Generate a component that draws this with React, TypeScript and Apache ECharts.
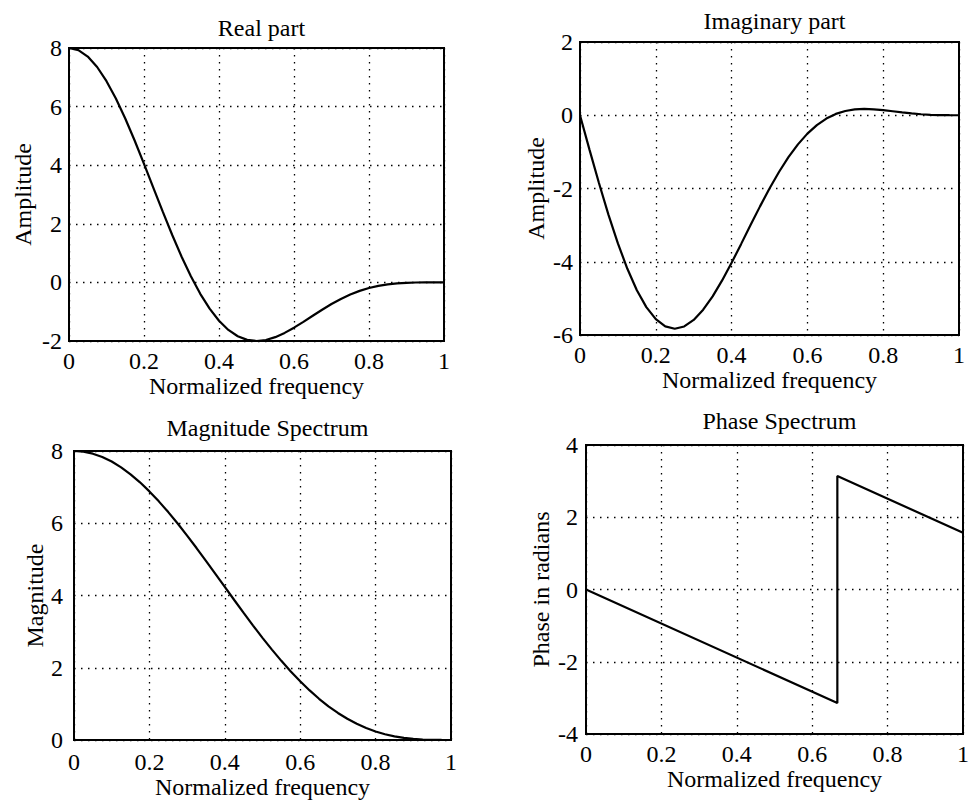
import React, { useEffect, useRef } from "react";
import * as echarts from "echarts";

const freq = [0, 0.025, 0.05, 0.075, 0.1, 0.125, 0.15, 0.175, 0.2, 0.225, 0.25, 0.275, 0.3, 0.325, 0.35, 0.375, 0.4, 0.425, 0.45, 0.475, 0.5, 0.525, 0.55, 0.575, 0.6, 0.625, 0.65, 0.675, 0.7, 0.725, 0.75, 0.775, 0.8, 0.825, 0.85, 0.875, 0.9, 0.925, 0.95, 0.975, 1];
const realPart = [8, 7.926, 7.707, 7.351, 6.868, 6.276, 5.593, 4.842, 4.045, 3.228, 2.414, 1.626, 0.885, 0.209, -0.389, -0.897, -1.309, -1.622, -1.838, -1.961, -2.0, -1.965, -1.868, -1.724, -1.545, -1.346, -1.138, -0.933, -0.739, -0.565, -0.414, -0.289, -0.191, -0.117, -0.066, -0.033, -0.014, -0.004, -0.001, 0, 0];
const imagPart = [0, -0.938, -1.85, -2.712, -3.499, -4.193, -4.777, -5.238, -5.568, -5.764, -5.828, -5.767, -5.589, -5.31, -4.944, -4.51, -4.029, -3.519, -2.999, -2.488, -2.0, -1.549, -1.145, -0.795, -0.502, -0.268, -0.09, 0.037, 0.117, 0.159, 0.172, 0.162, 0.139, 0.109, 0.077, 0.049, 0.027, 0.012, 0.004, 0.001, 0];
const magnitude = [8, 7.982, 7.926, 7.835, 7.708, 7.548, 7.355, 7.133, 6.882, 6.606, 6.309, 5.992, 5.659, 5.314, 4.959, 4.599, 4.236, 3.875, 3.518, 3.168, 2.828, 2.502, 2.191, 1.898, 1.625, 1.372, 1.141, 0.933, 0.749, 0.587, 0.448, 0.332, 0.236, 0.16, 0.102, 0.059, 0.031, 0.013, 0.004, 0.001, 0];
const phaseFreq = [0, 0.6667, 0.6667, 1];
const phaseVals = [0, -3.1416, 3.1416, 1.5708];

const titles = ["Real part", "Imaginary part", "Magnitude Spectrum", "Phase Spectrum"];
const yNames = ["Amplitude", "Amplitude", "Magnitude", "Phase in radians"];
const xName = "Normalized frequency";
const yRanges = [
  [-2, 8],
  [-6, 2],
  [0, 8],
  [-4, 4],
];

const FONT = "'Liberation Serif', 'Times New Roman', serif";
const FS = 24;

export default function App() {
  const ref = useRef<HTMLDivElement>(null);
  useEffect(() => {
    if (!ref.current) return;
    const chart = echarts.init(ref.current, null, { renderer: "svg" });
    const grids = [
      { left: 69, top: 48, width: 375, height: 293 },
      { left: 580, top: 42, width: 379, height: 293 },
      { left: 74, top: 451, width: 377, height: 289 },
      { left: 586, top: 445, width: 377, height: 289 },
    ];
    const titleTops = [11, 4, 411, 404];
    const xNameGaps = [33, 32, 34, 32];
    const yNameGaps = [34, 32, 23, 33];
    const yLabelMargins = [7, 7, 11, 8];
    const xLabelMargins = [8, 8, 10, 8];
    const toPairs = (xs: number[], ys: number[]) => xs.map((x, i) => [x, ys[i]]);
    const seriesData = [
      toPairs(freq, realPart),
      toPairs(freq, imagPart),
      toPairs(freq, magnitude),
      toPairs(phaseFreq, phaseVals),
    ];
    const dotted = { color: "#000", width: 1.3, type: [1.5, 5.5] as any };
    chart.setOption({
      animation: false,
      backgroundColor: "#fff",
      title: grids.map((g, i) => ({
        text: titles[i],
        left: g.left + g.width / 2,
        top: titleTops[i],
        textAlign: "center",
        textStyle: { fontFamily: FONT, fontSize: FS, fontWeight: "normal", color: "#000" },
      })),
      grid: grids.map((g) => ({
        ...g,
        show: true,
        borderColor: "#000",
        borderWidth: 2,
        backgroundColor: "transparent",
      })),
      xAxis: grids.map((g, i) => ({
        type: "value",
        gridIndex: i,
        min: 0,
        max: 1,
        interval: 0.2,
        name: xName,
        nameLocation: "middle",
        nameGap: xNameGaps[i],
        nameTextStyle: { fontFamily: FONT, fontSize: FS, color: "#000" },
        axisLine: { show: false },
        axisTick: { show: false },
        axisLabel: { fontFamily: FONT, fontSize: FS, color: "#000", margin: xLabelMargins[i] },
        splitLine: { show: true, lineStyle: dotted },
      })),
      yAxis: grids.map((g, i) => ({
        type: "value",
        gridIndex: i,
        min: yRanges[i][0],
        max: yRanges[i][1],
        interval: 2,
        name: yNames[i],
        nameLocation: "middle",
        nameGap: yNameGaps[i],
        nameTextStyle: { fontFamily: FONT, fontSize: FS, color: "#000" },
        axisLine: { show: false },
        axisTick: { show: false },
        axisLabel: { fontFamily: FONT, fontSize: FS, color: "#000", margin: yLabelMargins[i] },
        splitLine: { show: true, lineStyle: dotted },
      })),
      series: seriesData.map((d, i) => ({
        type: "line",
        xAxisIndex: i,
        yAxisIndex: i,
        data: d,
        showSymbol: false,
        smooth: false,
        lineStyle: { color: "#000", width: 2.2 },
        z: 5,
      })),
    });
    return () => chart.dispose();
  }, []);
  return (
    <div
      ref={ref}
      style={{ position: "absolute", left: 0, top: 0, width: 972, height: 800, background: "#fff" }}
    />
  );
}
